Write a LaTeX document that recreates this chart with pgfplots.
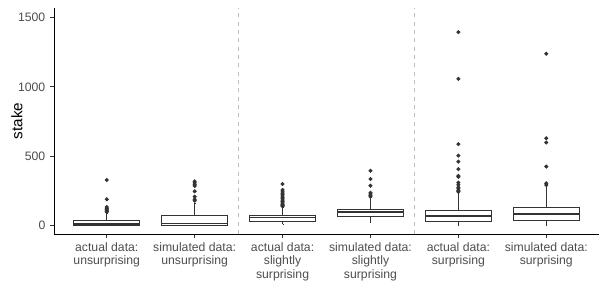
\documentclass[border=0pt]{standalone}
\usepackage{fontspec}
\setmainfont{Liberation Sans}
\usepackage{pgfplots}
\pgfplotsset{compat=1.18}
\usepgfplotslibrary{statistics}
\definecolor{g20}{HTML}{333333}
\definecolor{g30}{HTML}{4D4D4D}
\definecolor{dashc}{HTML}{BEBEBE}
\begin{document}
\begin{tikzpicture}
\path[use as bounding box] (-38.9pt,-47.5pt) rectangle (393.1pt,168.5pt);
\begin{axis}[
  at={(0,0)}, anchor=south west,
  scale only axis, width=392.4pt, height=162.7pt,
  xmin=0.4, xmax=6.6, ymin=-65, ymax=1570,
  axis x line*=bottom, axis y line*=left,
  axis line style={black, line width=0.6pt, -},
  tick align=outside, major tick length=2.75pt,
  tick style={g20, line width=0.5pt},
  xtick={1,2,3,4,5,6},
  xticklabels={{actual data:\\unsurprising},{simulated data:\\unsurprising},{actual data:\\slightly\\surprising},{simulated data:\\slightly\\surprising},{actual data:\\surprising},{simulated data:\\surprising}},
  xticklabel style={align=center, font=\fontsize{8.8}{9.6}\selectfont, text=g30},
  ytick={0,500,1000,1500},
  yticklabel style={font=\fontsize{8.8}{10}\selectfont, text=g30, /pgf/number format/1000 sep={}},
  /pgf/number format/assume math mode=true,
  ylabel={stake},
  ylabel style={at={(axis description cs:-0.068,0.5)}, anchor=center, font=\fontsize{11}{12}\selectfont, text=black},
  boxplot/every median/.style={line width=1.1pt},
  boxplot/draw direction=y,
]
\addplot[dashc, dashed, line width=0.5pt] coordinates {(2.5,-65) (2.5,1570)};
\addplot[dashc, dashed, line width=0.5pt] coordinates {(4.5,-65) (4.5,1570)};

\addplot[g20, line width=0.5pt, fill=white, mark=*, mark size=1.2pt, mark options={fill=g20, draw=g20, solid},
  boxplot prepared={median=7, lower quartile=0, upper quartile=36, lower whisker=0, upper whisker=85, draw position=1, box extend=0.75, whisker extend=0.001}]
  table[row sep=\\, y index=0] {v\\ 326\\ 186\\ 130\\ 122\\ 115\\ 108\\ 100\\ 95\\};

\addplot[g20, line width=0.5pt, fill=white, mark=*, mark size=1.2pt, mark options={fill=g20, draw=g20, solid},
  boxplot prepared={median=12, lower quartile=0, upper quartile=67, lower whisker=0, upper whisker=160, draw position=2, box extend=0.75, whisker extend=0.001}]
  table[row sep=\\, y index=0] {v\\ 316\\ 305\\ 295\\ 283\\ 244\\ 205\\ 186\\ 176\\};

\addplot[g20, line width=0.5pt, fill=white, mark=*, mark size=1.2pt, mark options={fill=g20, draw=g20, solid},
  boxplot prepared={median=53, lower quartile=29, upper quartile=70, lower whisker=7, upper whisker=125, draw position=3, box extend=0.75, whisker extend=0.001}]
  table[row sep=\\, y index=0] {v\\ 297\\ 254\\ 240\\ 230\\ 220\\ 210\\ 200\\ 190\\ 180\\ 170\\ 160\\ 150\\ 145\\ 140\\ 135\\};

\addplot[g20, line width=0.5pt, fill=white, mark=*, mark size=1.2pt, mark options={fill=g20, draw=g20, solid},
  boxplot prepared={median=94, lower quartile=63, upper quartile=116, lower whisker=17, upper whisker=193, draw position=4, box extend=0.75, whisker extend=0.001}]
  table[row sep=\\, y index=0] {v\\ 393\\ 333\\ 285\\ 234\\ 225\\ 215\\ 205\\};

\addplot[g20, line width=0.5pt, fill=white, mark=*, mark size=1.2pt, mark options={fill=g20, draw=g20, solid},
  boxplot prepared={median=65, lower quartile=29, upper quartile=109, lower whisker=0, upper whisker=228, draw position=5, box extend=0.75, whisker extend=0.001}]
  table[row sep=\\, y index=0] {v\\ 1396\\ 1058\\ 585\\ 502\\ 459\\ 404\\ 355\\ 349\\ 307\\ 290\\ 273\\ 262\\ 249\\ 241\\};

\addplot[g20, line width=0.5pt, fill=white, mark=*, mark size=1.2pt, mark options={fill=g20, draw=g20, solid},
  boxplot prepared={median=78, lower quartile=36, upper quartile=130, lower whisker=0, upper whisker=270, draw position=6, box extend=0.75, whisker extend=0.001}]
  table[row sep=\\, y index=0] {v\\ 1239\\ 628\\ 597\\ 423\\ 302\\ 289\\};
\end{axis}
\end{tikzpicture}
\end{document}
